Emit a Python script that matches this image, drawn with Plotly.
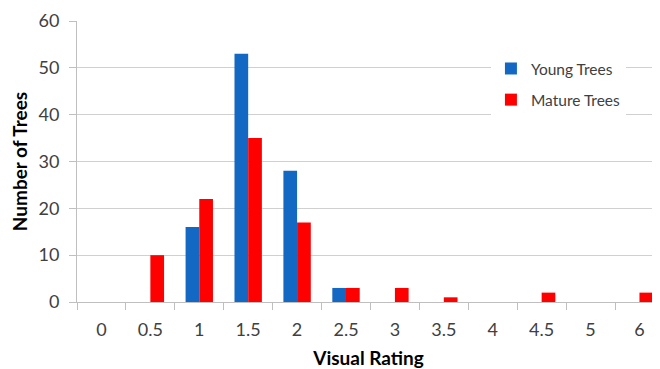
import plotly.graph_objects as go

categories = ["0", "0.5", "1", "1.5", "2", "2.5", "3", "3.5", "4", "4.5", "5", "6"]
young_trees = [0, 0, 16, 53, 28, 3, 0, 0, 0, 0, 0, 0]
mature_trees = [0, 10, 22, 35, 17, 3, 3, 1, 0, 2, 0, 2]
y_ticks = [0, 10, 20, 30, 40, 50, 60]

fig = go.Figure()
fig.add_trace(go.Bar(x=categories, y=young_trees, name="Young Trees", legendgroup="young",
                     marker=dict(color="#1368C4", line=dict(width=0))))
fig.add_trace(go.Bar(x=categories, y=mature_trees, name="Mature Trees", legendgroup="mature",
                     marker=dict(color="#FF0000", line=dict(width=0))))

font_family = "Lato, 'Open Sans', sans-serif"
# page body has an 8px margin, so the figure is offset by 8px; compensate
fig.update_layout(
    width=652, height=361,
    margin=dict(l=69, r=0, t=13, b=67),
    plot_bgcolor="white", paper_bgcolor="white",
    barmode="group", bargap=0.44, bargroupgap=0,
    font=dict(family=font_family, color="#404040", size=18),
    showlegend=True,
    legend=dict(x=0.71, y=0.89, xanchor="left", yanchor="top",
                bgcolor="white", font=dict(size=15.5, color="#404040", family=font_family),
                itemwidth=30, tracegroupgap=8),
    xaxis=dict(
        type="category", range=[-0.5, 11.42], automargin=False,
        showline=True, linecolor="#bfbfbf", linewidth=1,
        ticks="outside", tickson="boundaries", ticklen=7, tickcolor="#bfbfbf",
        ticklabelstandoff=11,
        showgrid=False,
        tickfont=dict(size=18, color="#404040"),
        title=dict(text="<b>Visual Rating</b>", font=dict(size=19, color="#000000"), standoff=16),
    ),
    yaxis=dict(
        range=[0, 60], tickvals=y_ticks, automargin=False,
        showline=True, linecolor="#bfbfbf", linewidth=1,
        ticks="outside", ticklen=7, tickcolor="#bfbfbf",
        ticklabelstandoff=6,
        showgrid=True, gridcolor="#d0d0d0", gridwidth=1,
        zeroline=False,
        tickfont=dict(size=18, color="#404040"),
        title=dict(text="<b>Number of Trees</b>", font=dict(size=19, color="#000000"), standoff=10),
    ),
)

fig.write_html("out.html")
